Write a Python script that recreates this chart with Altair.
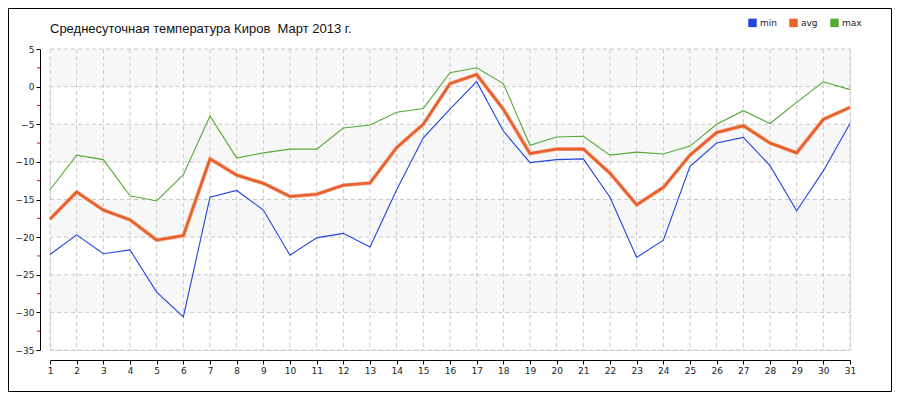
import altair as alt
import pandas as pd

days = list(range(1, 32))
min_vals = [-22.3, -19.7, -22.2, -21.7, -27.3, -30.6, -14.7, -13.8, -16.4, -22.4, -20.1,
            -19.5, -21.3, -13.7, -6.8, -3.0, 0.65, -5.9, -10.1, -9.7, -9.6, -14.7,
            -22.7, -20.4, -10.6, -7.5, -6.75, -10.5, -16.5, -11.2, -4.9]
avg_vals = [-17.6, -14.0, -16.4, -17.7, -20.4, -19.8, -9.6, -11.75, -12.85, -14.6, -14.3,
            -13.1, -12.8, -8.1, -5.0, 0.4, 1.6, -3.0, -8.9, -8.3, -8.3, -11.5,
            -15.7, -13.4, -9.1, -6.1, -5.2, -7.5, -8.8, -4.35, -2.75]
max_vals = [-13.7, -9.1, -9.7, -14.5, -15.2, -11.7, -3.9, -9.5, -8.8, -8.3, -8.3,
            -5.5, -5.1, -3.4, -2.9, 1.85, 2.5, 0.4, -7.8, -6.7, -6.6, -9.1,
            -8.7, -8.95, -7.9, -5.0, -3.2, -4.9, -2.1, 0.65, -0.4]
series_names = ["min", "avg", "max"]
series_colors = ["#2244dd", "#e8602c", "#55aa33"]
y_major = [5, 0, -5, -10, -15, -20, -25, -30, -35]
y_minor = [2.5, -2.5, -7.5, -12.5, -17.5, -22.5, -27.5, -32.5]
band_lo = [0, -10, -20, -30]
band_hi = [5, -5, -15, -25]
title_text = "Среднесуточная температура Киров\u00a0 Март 2013 г."

rows = []
for name, vals in zip(series_names, [min_vals, avg_vals, max_vals]):
    for d, v in zip(days, vals):
        rows.append({"day": d, "t": v, "series": name})
df = pd.DataFrame(rows)
bands = pd.DataFrame({"lo": band_lo, "hi": band_hi})
hgrid = pd.DataFrame({"t": y_major})
vgrid = pd.DataFrame({"day": days})
minor = pd.DataFrame({"t": y_minor})

W, H = 800, 301
xscale = alt.Scale(domain=[1, 31], nice=False, zero=False)
yscale = alt.Scale(domain=[-35, 5], nice=False, zero=False)
cscale = alt.Scale(domain=series_names, range=series_colors)

xaxis = alt.Axis(values=days, format="d", offset=10, grid=False, title=None,
                 labelOverlap=False, labelFlush=False)
yaxis = alt.Axis(values=y_major, format="d", offset=10, grid=False, title=None,
                 labelOverlap=False, labelFlush=False)

X = alt.X("day:Q", scale=xscale, axis=xaxis)
Y = alt.Y("t:Q", scale=yscale, axis=yaxis)

band_layer = alt.Chart(bands).mark_rect(color="#f7f7f7").encode(
    y=alt.Y("lo:Q", scale=yscale, axis=yaxis),
    y2="hi:Q",
    x=alt.value(0), x2=alt.value(W),
)
hgrid_layer = alt.Chart(hgrid).mark_rule(color="#c8c8c8", strokeDash=[4, 3], strokeWidth=1).encode(
    y=Y, x=alt.value(0), x2=alt.value(W))
vgrid_layer = alt.Chart(vgrid).mark_rule(color="#c8c8c8", strokeDash=[4, 3], strokeWidth=1).encode(
    x=X, y=alt.value(0), y2=alt.value(H))
minor_layer = alt.Chart(minor).mark_rule(color="#ff0000", strokeWidth=1).encode(
    y=Y, x=alt.value(-13), x2=alt.value(-10))

thin = alt.Chart(df).transform_filter("datum.series != 'avg'").mark_line(strokeWidth=1.1).encode(
    x=X, y=Y,
    color=alt.Color("series:N", scale=cscale, legend=alt.Legend(
        orient="none", legendX=698, legendY=-31, direction="horizontal", title=None,
        symbolType="square", symbolSize=12, symbolStrokeWidth=5, labelFontSize=9,
        labelFont="DejaVu Sans", labelColor="#222", columnPadding=4, labelOffset=3)),
)
avg_shadow = alt.Chart(df).transform_filter("datum.series == 'avg'").mark_line(
    strokeWidth=4, color="#f3b49a").encode(x=X, y=Y)
avg = alt.Chart(df).transform_filter("datum.series == 'avg'").mark_line(strokeWidth=2.6).encode(
    x=X, y=Y, color=alt.Color("series:N", scale=cscale))

title = alt.Chart(pd.DataFrame({"txt": [title_text]})).mark_text(
    align="left", baseline="alphabetic", font="Liberation Sans", fontSize=13, color="#111"
).encode(text="txt:N", x=alt.value(0), y=alt.value(-16))

frame = alt.Chart(pd.DataFrame({"a": [0]})).mark_rect(
    fillOpacity=0, stroke="#000", strokeWidth=1).encode(
    x=alt.value(-41.5), x2=alt.value(W + 41.5), y=alt.value(-40.5), y2=alt.value(H + 41.5))

chart = alt.layer(band_layer, hgrid_layer, vgrid_layer, minor_layer, thin, avg_shadow, avg,
                  title, frame).properties(
    width=W, height=H,
    autosize=alt.AutoSizeParams(type="none"),
    padding={"left": 42, "top": 41, "right": 42, "bottom": 42},
).configure_view(stroke=None).configure(background="white").configure_axis(
    domainColor="#000", tickColor="#000", tickSize=4, labelFontSize=9, labelColor="#222",
    labelFont="DejaVu Sans", labelOverlap=False, labelFlush=False, labelPadding=2,
    labelBound=False,
)

chart.save("out.html", embed_options={"renderer": "svg", "actions": False})
